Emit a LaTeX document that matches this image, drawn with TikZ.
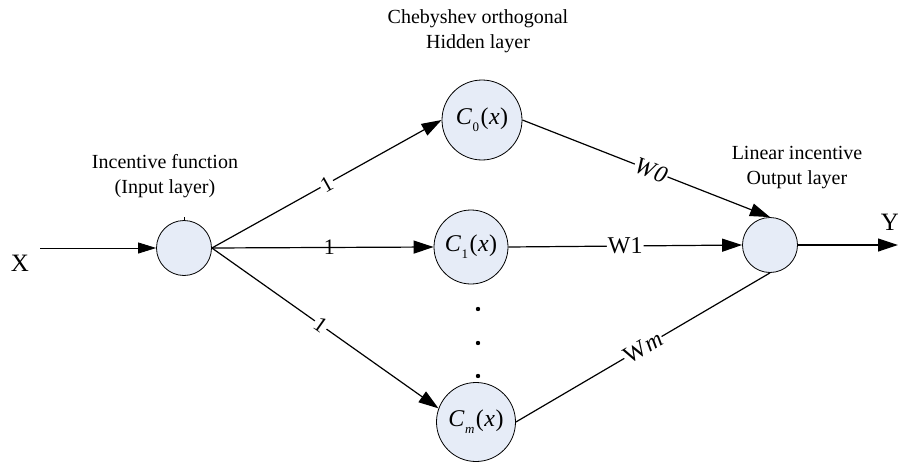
\documentclass[tikz,border=0pt]{standalone}
\usepackage{fontspec}
\setmainfont{Liberation Serif}
\usetikzlibrary{arrows.meta}
\definecolor{nodefill}{RGB}{230,236,247}
\newcommand\cfun[1]{\textit{C}\kern0.5pt\raisebox{-0.3em}{\fontsize{13}{13}\selectfont #1}\kern1.5pt(\kern0.5pt\textit{x}\kern0.5pt)}
\begin{document}
\begin{tikzpicture}[x=1pt,y=-1pt,
  neuron/.style={circle, draw, fill=nodefill, line width=0.8pt, inner sep=0pt, font=\fontsize{24}{26}\selectfont},
  edge/.style={line width=1.2pt, -{Triangle[length=20pt,width=13pt]}},
  plain/.style={line width=1.2pt},
  lab/.style={fill=white, sloped, inner sep=1.5pt, font=\fontsize{22}{22}\selectfont},
  labnf/.style={sloped, inner sep=1.5pt, font=\fontsize{22}{22}\selectfont},
  wlab/.style={fill=white, sloped, inner sep=1pt, font=\fontsize{24}{24}\selectfont},
  caption/.style={align=center, font=\fontsize{20}{25}\selectfont},
  io/.style={font=\fontsize{25}{25}\selectfont}]
\useasboundingbox (0,0) rectangle (898,463);
% nodes
\node[neuron, minimum size=55pt] (in) at (184,248) {};
\node[neuron, minimum size=80pt] (c0) at (482,120) {\cfun{0}};
\node[neuron, minimum size=74pt] (c1) at (471,247) {\cfun{1}};
\node[neuron, minimum size=79pt] (cm) at (476,422) {\cfun{\textit{m}}};
\node[neuron, minimum size=55pt] (out) at (770,245) {};
% captions
\node[caption] (cap1) at (165,176) {Incentive function\\(Input layer)};
\node[caption] (cap2) at (478,31) {Chebyshev orthogonal\\Hidden layer};
\node[caption] (cap3) at (797,168) {Linear incentive\\Output layer};
% io
\coordinate (xs) at (40,248);
\coordinate (ye) at (898,245);
\node[io] (xl) at (20,263) {X};
\node[io] (yl) at (890,222) {Y};
% dots
\foreach \yy [count=\i] in {309,343,376} \fill (478,\yy) circle (2.2pt) coordinate (d\i);
% tick on input node
\draw[line width=0.6pt] (in.north) -- ++(0,-3);
% connectors
\draw[line width=0.8pt, -{Triangle[length=18pt,width=11pt]}] (xs) -- (in.west);
\draw[edge] (in.east) -- node[lab, pos=0.5]{1} (c0.west);
\draw[edge] (in.east) -- node[labnf, pos=0.53]{1} (c1.west);
\draw[edge] (in.east) -- node[lab, pos=0.48]{1} (cm.160);
\draw[edge] (c0.east) -- node[wlab, pos=0.52]{\textit{W\kern1pt0}} (out.north);
\draw[edge] (c1.east) -- node[wlab, pos=0.5]{W1} (out.west);
\draw[plain] (cm.east) -- node[wlab, pos=0.5]{W\kern1pt\textit{m}} (out.south);
\draw[edge] (out.east) -- (ye);
\end{tikzpicture}
\end{document}
